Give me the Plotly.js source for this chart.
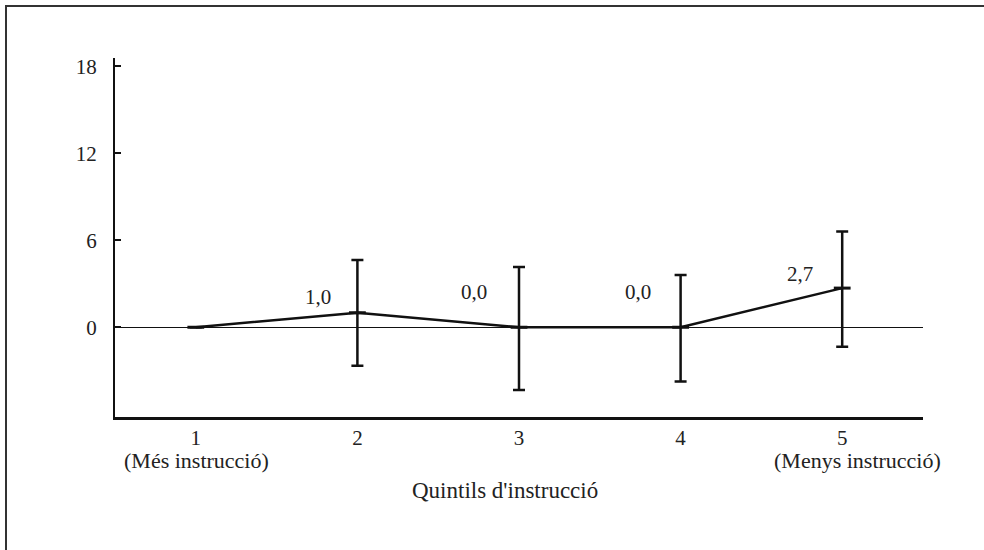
<!DOCTYPE html>
<html>
<head>
<meta charset="utf-8">
<script src="https://cdn.plot.ly/plotly-3.0.1.min.js"></script>
<style>
  html, body { margin: 0; padding: 0; background: #fff; }
  #wrap { position: relative; width: 984px; height: 550px; overflow: hidden; }
  #frame { position: absolute; left: 5px; top: 5px; right: -10px; bottom: -10px;
           border-top: 2px solid #333; border-left: 2px solid #333; pointer-events: none; }
  #chart { position: absolute; left: 0; top: 0; width: 984px; height: 550px; }
</style>
</head>
<body>
<div id="wrap">
  <div id="chart"></div>
  <div id="frame"></div>
</div>
<script>
// Data
const categories = [1, 2, 3, 4, 5];
const tickLabels = ["1", "2", "3", "4", "5"];
const subLabels = ["(Més instrucció)", "", "", "", "(Menys instrucció)"];
const values = [0.0, 1.0, 0.0, 0.0, 2.7];
const upperCI = [0.0, 4.64, 4.16, 3.6, 6.6];
const lowerCI = [0.0, -2.65, -4.32, -3.75, -1.34];
const valueLabels = ["", "1,0", "0,0", "0,0", "2,7"];
const yTicks = [0, 6, 12, 18];
const xTitle = "Quintils d'instrucció";

// Style: label offsets (pixels) relative to each point
const labelDx = [0, -39, -45, -43, -42];
const labelDy = [0, 16, 35, 35, 14];
const subDx = [1, 0, 0, 0, 15];

const errPlus = values.map((v, i) => upperCI[i] - v);
const errMinus = values.map((v, i) => v - lowerCI[i]);

const font = "'Liberation Serif', 'Times New Roman', serif";
const txt = '#222';

const trace = {
  x: categories,
  y: values,
  type: 'scatter',
  mode: 'lines+markers',
  line: { color: '#111', width: 2.5 },
  marker: { symbol: 'line-ew', size: 12, line: { color: '#111', width: 3 } },
  error_y: {
    type: 'data', symmetric: false,
    array: errPlus, arrayminus: errMinus,
    color: '#111', thickness: 2.5, width: 6
  },
  hoverinfo: 'skip',
  showlegend: false
};

const annotations = [];
categories.forEach((c, i) => {
  if (valueLabels[i]) annotations.push({
    x: c, y: values[i], xref: 'x', yref: 'y',
    text: valueLabels[i], showarrow: false,
    xshift: labelDx[i], yshift: labelDy[i],
    font: { family: font, size: 21, color: txt }
  });
  if (subLabels[i]) annotations.push({
    x: c, y: -0.12, xref: 'x', yref: 'paper', yanchor: 'middle',
    text: subLabels[i], showarrow: false, xshift: subDx[i],
    font: { family: font, size: 22, color: txt }
  });
});
annotations.push({
  x: 0.483, y: -0.205, xref: 'paper', yref: 'paper', yanchor: 'middle',
  text: xTitle, showarrow: false,
  font: { family: font, size: 23, color: txt }
});

const layout = {
  width: 984, height: 550,
  margin: { l: 115, r: 61, t: 58, b: 133 },
  paper_bgcolor: '#fff', plot_bgcolor: '#fff',
  font: { family: font, color: txt },
  xaxis: {
    range: [0.5, 5.5],
    tickvals: categories, ticktext: tickLabels,
    showgrid: false, zeroline: false,
    showline: true, linecolor: '#111', linewidth: 2.5,
    ticks: '', ticklabelstandoff: 0,
    tickfont: { family: font, size: 21, color: txt },
    fixedrange: true
  },
  yaxis: {
    range: [-6.19, 18.57],
    tickvals: yTicks, ticktext: yTicks.map(String),
    showgrid: false,
    zeroline: true, zerolinecolor: '#111', zerolinewidth: 1.5,
    showline: true, linecolor: '#111', linewidth: 2,
    ticks: 'inside', ticklen: 6, tickwidth: 2, tickcolor: '#111',
    ticklabelstandoff: 12,
    tickfont: { family: font, size: 21, color: txt },
    fixedrange: true
  },
  annotations: annotations
};

Plotly.newPlot('chart', [trace], layout, { displayModeBar: false, staticPlot: true });
</script>
</body>
</html>
